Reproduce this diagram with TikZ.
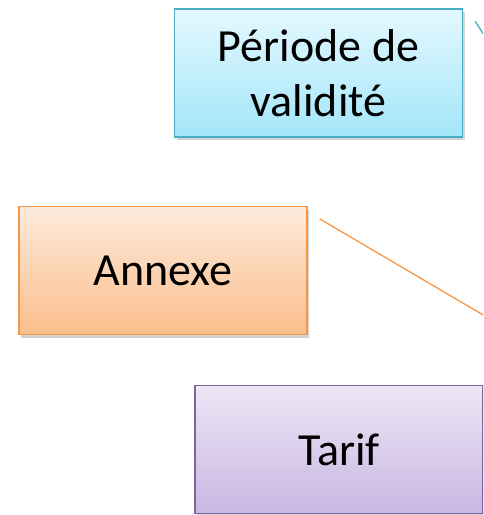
\documentclass[tikz,border=0pt]{standalone}
\usepackage{fontspec}
\setmainfont{Carlito}
\usetikzlibrary{shadows}
\definecolor{cyanB}{HTML}{4BACC6}
\definecolor{cyanT}{HTML}{E4F8FE}
\definecolor{cyanBot}{HTML}{A3E6FA}
\definecolor{orgB}{HTML}{F79646}
\definecolor{orgT}{HTML}{FDEADB}
\definecolor{orgBot}{HTML}{FBBE8C}
\definecolor{purB}{HTML}{8064A2}
\definecolor{purT}{HTML}{EDE7F5}
\definecolor{purBot}{HTML}{C8B6E2}
\tikzset{
  box/.style={rectangle, line width=1.3pt, minimum width=288pt, minimum height=128pt,
    align=center, font=\fontsize{46}{55}\selectfont, text=black, inner sep=0pt,
    drop shadow={shadow xshift=2pt, shadow yshift=-3pt, opacity=0.35, fill=gray}},
  cyanbox/.style={box, draw=cyanB, top color=cyanT, bottom color=cyanBot},
  orgbox/.style={box, draw=orgB, top color=orgT, bottom color=orgBot},
  purbox/.style={box, draw=purB, top color=purT, bottom color=purBot},
  link/.style={line width=1.3pt}
}
\begin{document}
\begin{tikzpicture}[x=1pt,y=1pt]
\useasboundingbox (0,0) rectangle (483,-515);
\clip (0,0) rectangle (483,-515);
\node[cyanbox] (per) at (318.5,-73) {Période de\\validité};
\node[orgbox] (ann) at (163,-270.5) {Annexe};
\node[purbox] (tar) at (339,-449.5) {Tarif};
\coordinate (pend) at (490,-44);
\coordinate (aend) at (490,-319);
\draw[link, cyanB] ([xshift=12pt,yshift=-13pt]per.north east) -- (pend);
\draw[link, orgB] ([xshift=12pt,yshift=-13pt]ann.north east) -- (aend);
\end{tikzpicture}
\end{document}
